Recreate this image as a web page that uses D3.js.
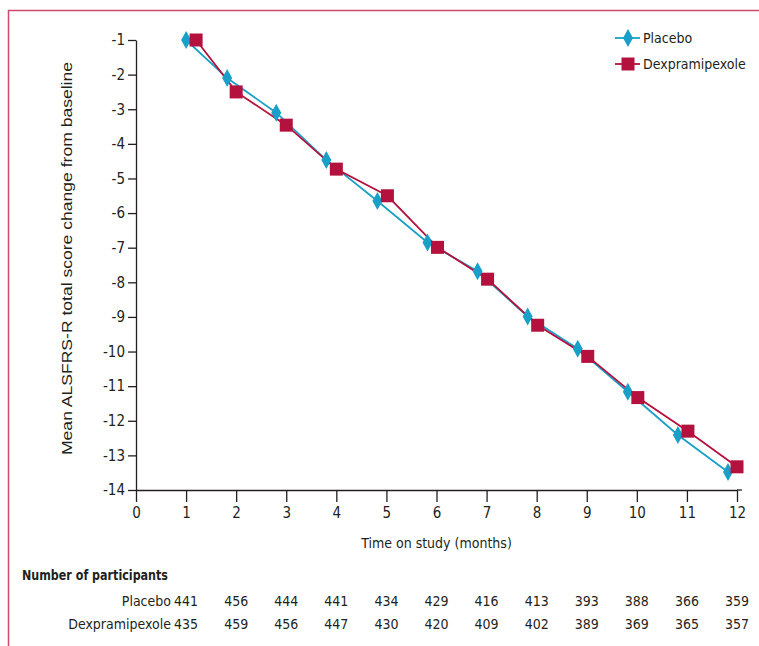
<!DOCTYPE html>
<html>
<head>
<meta charset="utf-8">
<script src="https://cdn.jsdelivr.net/npm/d3@7"></script>
<style>
  html, body { margin: 0; padding: 0; background: #fff; }
  svg { display: block; }
  text { font-family: "DejaVu Sans Condensed", "DejaVu Sans", sans-serif; font-stretch: condensed; fill: #231f20; }
</style>
</head>
<body>
<script>
// Months at which each group was assessed (the two series are nudged apart on the time axis)
const months = [1, 2, 3, 4, 5, 6, 7, 8, 9, 10, 11, 12];
const placeboTime = [1.0, 1.82, 2.8, 3.8, 4.82, 5.82, 6.82, 7.82, 8.82, 9.82, 10.82, 11.82];
const dexTime = [1.2, 2.0, 3.0, 4.0, 5.02, 6.02, 7.02, 8.02, 9.02, 10.02, 11.02, 12.0];

// Mean ALSFRS-R total score change from baseline
const placeboValues = [-1.0, -2.1, -3.1, -4.47, -5.65, -6.85, -7.68, -8.99, -9.92, -11.16, -12.41, -13.48];
const dexValues = [-1.0, -2.5, -3.46, -4.73, -5.5, -6.99, -7.91, -9.24, -10.14, -11.33, -12.3, -13.33];

// Number of participants per visit
const placeboN = [441, 456, 444, 441, 434, 429, 416, 413, 393, 388, 366, 359];
const dexN = [435, 459, 456, 447, 430, 420, 409, 402, 389, 369, 365, 357];

const xTicks = [0, 1, 2, 3, 4, 5, 6, 7, 8, 9, 10, 11, 12];
const yTicks = [-1, -2, -3, -4, -5, -6, -7, -8, -9, -10, -11, -12, -13, -14];

const seriesNames = ["Placebo", "Dexpramipexole"];
const colors = { placebo: "#1aa0c8", dex: "#b4113e" };

const W = 759, H = 646;
const svg = d3.select("body").append("svg").attr("width", W).attr("height", H);

// Frame rules (top and left)
svg.append("line").attr("x1", 8).attr("x2", W).attr("y1", 10.5).attr("y2", 10.5)
  .attr("stroke", "#cf4a6c").attr("stroke-width", 1.5);
svg.append("line").attr("x1", 8.5).attr("x2", 8.5).attr("y1", 10).attr("y2", H)
  .attr("stroke", "#cf4a6c").attr("stroke-width", 1.5);

const x = d3.scaleLinear().domain([0, 12]).range([136, 737]);
const y = d3.scaleLinear().domain([-14, -1]).range([490, 40]);

// Y axis
const gy = svg.append("g").attr("transform", `translate(${x(0)},0)`)
  .call(d3.axisLeft(y).tickValues(yTicks).tickSize(8).tickSizeOuter(0).tickPadding(3).tickFormat(d => String(d)));
gy.selectAll("path, line").attr("stroke", "#231f20").attr("stroke-width", 1.3);
gy.selectAll("text").attr("font-size", 15).attr("font-family", null).style("fill", "#231f20");

// X axis
const gx = svg.append("g").attr("transform", `translate(0,${y(-14)})`)
  .call(d3.axisBottom(x).tickValues(xTicks).tickSize(12).tickSizeOuter(0).tickPadding(5).tickFormat(d3.format("d")));
gx.selectAll("path, line").attr("stroke", "#231f20").attr("stroke-width", 1.3);
gx.selectAll("text").attr("font-size", 15).attr("font-family", null).style("fill", "#231f20");
gx.append("line").attr("x1", x(12)).attr("x2", x(12) + 5).attr("y1", 0).attr("y2", 0)
  .attr("stroke", "#231f20").attr("stroke-width", 1.3);
svg.selectAll("g").attr("font-family", null);

// Axis titles
svg.append("text")
  .attr("transform", `translate(72,${(62 + 455) / 2}) rotate(-90)`)
  .attr("text-anchor", "middle").attr("font-size", 14)
  .style("font-family", "'Liberation Sans', Arial, sans-serif").style("font-stretch", "normal")
  .attr("textLength", 393).attr("lengthAdjust", "spacingAndGlyphs")
  .text("Mean ALSFRS-R total score change from baseline");

svg.append("text")
  .attr("x", (x(0) + x(12)) / 2).attr("y", 548)
  .attr("text-anchor", "middle").attr("font-size", 14)
  .text("Time on study (months)");

// Series lines
const line = d3.line().x(d => x(d[0])).y(d => y(d[1]));
const placeboPts = placeboTime.map((t, i) => [t, placeboValues[i]]);
const dexPts = dexTime.map((t, i) => [t, dexValues[i]]);

svg.append("path").datum(placeboPts).attr("d", line)
  .attr("fill", "none").attr("stroke", colors.placebo).attr("stroke-width", 1.8);
svg.append("path").datum(dexPts).attr("d", line)
  .attr("fill", "none").attr("stroke", colors.dex).attr("stroke-width", 1.8);

// Markers: tall diamonds for placebo, squares for dexpramipexole
const diamond = (cx, cy, w, h) => `M${cx},${cy - h / 2}L${cx + w / 2},${cy}L${cx},${cy + h / 2}L${cx - w / 2},${cy}Z`;
svg.append("g").selectAll("path").data(placeboPts).join("path")
  .attr("d", d => diamond(x(d[0]), y(d[1]), 10, 18))
  .attr("fill", colors.placebo);
const sq = 13;
svg.append("g").selectAll("rect").data(dexPts).join("rect")
  .attr("x", d => x(d[0]) - sq / 2).attr("y", d => y(d[1]) - sq / 2)
  .attr("width", sq).attr("height", sq).attr("fill", colors.dex);

// Legend
const legend = svg.append("g");
const legY = [38, 64];
legend.append("line").attr("x1", 615).attr("x2", 640).attr("y1", legY[0]).attr("y2", legY[0])
  .attr("stroke", colors.placebo).attr("stroke-width", 1.8);
legend.append("path").attr("d", diamond(628, legY[0], 10, 18)).attr("fill", colors.placebo);
legend.append("line").attr("x1", 615).attr("x2", 640).attr("y1", legY[1]).attr("y2", legY[1])
  .attr("stroke", colors.dex).attr("stroke-width", 1.8);
legend.append("rect").attr("x", 628 - sq / 2).attr("y", legY[1] - sq / 2).attr("width", sq).attr("height", sq)
  .attr("fill", colors.dex);
legend.selectAll("text").data(seriesNames).join("text")
  .attr("x", 643).attr("y", (d, i) => legY[i]).attr("dy", "0.35em")
  .attr("font-size", 14).text(d => d);

// Number of participants table
svg.append("text").attr("x", 22).attr("y", 580).attr("font-size", 14).attr("font-weight", "bold")
  .attr("textLength", 146).attr("lengthAdjust", "spacingAndGlyphs")
  .text("Number of participants");
const rows = [
  { name: seriesNames[0], n: placeboN, y: 601 },
  { name: seriesNames[1], n: dexN, y: 624 }
];
rows.forEach(r => {
  svg.append("text").attr("x", 171).attr("y", r.y).attr("dy", "0.35em")
    .attr("text-anchor", "end").attr("font-size", 14).text(r.name);
  svg.append("g").selectAll("text").data(r.n).join("text")
    .attr("x", (d, i) => x(months[i])).attr("y", r.y).attr("dy", "0.35em")
    .attr("text-anchor", "middle").attr("font-size", 14).text(d => d);
});
</script>
</body>
</html>
